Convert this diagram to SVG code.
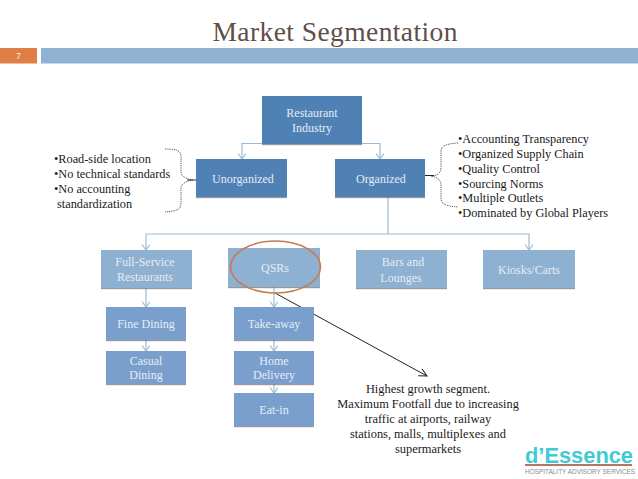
<svg xmlns="http://www.w3.org/2000/svg" width="638" height="479" viewBox="0 0 638 479">
<style>
text{font-family:"Liberation Serif","Times New Roman",serif}
.l{font-size:12px;fill:#e4edf5;text-anchor:middle}
.b{font-size:12.3px;fill:#1a1a1a}
.c{font-size:12.4px;fill:#1a1a1a;text-anchor:middle}
.a{fill:#4f81b4}.m{fill:#8eb0d1}.k{fill:#7a9fcd}
rect{filter:url(#s)}
.w{fill:none;stroke:#9dbbd6;stroke-width:1.2}
.d{fill:none;stroke:#444;stroke-width:.9;stroke-dasharray:1.2 1}
</style>
<defs>
<filter id="s" x="-5%" y="-5%" width="110%" height="115%"><feDropShadow dx="0" dy="1.2" stdDeviation=".5" flood-color="#555" flood-opacity=".6"/></filter>
<marker id="h" markerWidth="10" markerHeight="10" refX="6" refY="4" orient="auto" markerUnits="userSpaceOnUse"><path d="M0.5 0L6 4L0.5 8" fill="none" stroke="#9dbbd6" stroke-width="1.2"/></marker>
<marker id="t" markerWidth="12" markerHeight="10" refX="8" refY="4" orient="auto" markerUnits="userSpaceOnUse"><path d="M0 0L8 4L0 8" fill="none" stroke="#222" stroke-width="1"/></marker>
</defs>
<text x="335" y="41" font-size="27.5" fill="#5e4f48" text-anchor="middle" textLength="245">Market Segmentation</text>
<g id="header">
<path d="M0 48H37V63.5H0Z" fill="#e07f45"/>
<path d="M41 48H638V63.5H41Z" fill="#90b1d1"/>
<text x="18.500" y="58.500" font-size="9" font-weight="bold" fill="#f5e6da" text-anchor="middle">7</text>
</g>
<g id="connectors">
<path class="w" marker-end="url(#h)" d="M262 143.500H242V159"/>
<path class="w" marker-end="url(#h)" d="M362 143.500H380V159"/>
<path class="w" marker-end="url(#h)" d="M388 197V234H146V250"/>
<path class="w" marker-end="url(#h)" d="M388 234H529V250"/>
<path class="w" marker-end="url(#h)" d="M146 288V307"/>
<path class="w" marker-end="url(#h)" d="M146 340V351"/>
<path class="w" marker-end="url(#h)" d="M274 287V307"/>
<path class="w" marker-end="url(#h)" d="M274 340V351"/>
<path class="w" marker-end="url(#h)" d="M274 384V393"/>
<path d="M275 293L427 376" fill="none" stroke="#222" stroke-width="1" marker-end="url(#t)"/>
<path class="d" d="M165 149C178 149 181 151 181 157V172C181 176 186 179 193 180C186 181 181 184 181 188V203C181 209 178 211 165 212"/>
<path d="M187 180H197" stroke="#333" stroke-width="1" fill="none"/>
<path class="d" d="M458 143C445 144 441 146 441 152V168C441 173 437 176 431 176C437 177 441 180 441 185V198C441 204 445 206 458 207"/>
<path d="M425 175.500H434" stroke="#222" stroke-width="1" fill="none"/>
</g>
<g id="restaurant"><rect class="a" x="262" y="96" width="100" height="48"/><text class="l" x="312" y="117">Restaurant</text><text class="l" x="312" y="132">Industry</text></g>
<g id="unorganized"><rect class="a" x="196" y="159" width="91" height="38"/><text class="l" x="243" y="183">Unorganized</text></g>
<g id="organized"><rect class="a" x="335" y="159" width="90" height="38"/><text class="l" x="381" y="183">Organized</text></g>
<g id="full-service"><rect class="m" x="101" y="250" width="91" height="38"/><text class="l" x="145" y="266">Full-Service</text><text class="l" x="145" y="281">Restaurants</text></g>
<g id="qsrs"><rect class="m" x="228" y="248" width="92" height="39"/><text class="l" x="275" y="272">QSRs</text></g>
<g id="bars"><rect class="m" x="356" y="250" width="91" height="38"/><text class="l" x="403" y="266">Bars and</text><text class="l" x="401" y="282">Lounges</text></g>
<g id="kiosks"><rect class="m" x="483" y="250" width="92" height="38"/><text class="l" x="529" y="274">Kiosks/Carts</text></g>
<g id="fine-dining"><rect class="k" x="106" y="307" width="80" height="33"/><text class="l" x="146" y="328">Fine Dining</text></g>
<g id="casual-dining"><rect class="k" x="106" y="351" width="80" height="33"/><text class="l" x="146" y="365">Casual</text><text class="l" x="146" y="379">Dining</text></g>
<g id="take-away"><rect class="k" x="234" y="307" width="80" height="33"/><text class="l" x="274" y="328">Take-away</text></g>
<g id="home-delivery"><rect class="k" x="234" y="351" width="80" height="33"/><text class="l" x="274" y="365">Home</text><text class="l" x="274" y="379">Delivery</text></g>
<g id="eat-in"><rect class="k" x="234" y="393" width="80" height="33"/><text class="l" x="274" y="414">Eat-in</text></g>
<ellipse id="highlight" cx="275.500" cy="267" rx="45" ry="26" fill="none" stroke="#c9794f" stroke-width="1.6"/>
<g id="notes-left">
<text class="b" x="54" y="163">•Road-side location</text>
<text class="b" x="54" y="178">•No technical standards</text>
<text class="b" x="54" y="193">•No accounting</text>
<text class="b" x="57" y="208">standardization</text>
</g>
<g id="notes-right">
<text class="b" x="458" y="143">•Accounting Transparency</text>
<text class="b" x="458" y="158">•Organized Supply Chain</text>
<text class="b" x="458" y="173">•Quality Control</text>
<text class="b" x="458" y="188">•Sourcing Norms</text>
<text class="b" x="458" y="202">•Multiple Outlets</text>
<text class="b" x="458" y="217">•Dominated by Global Players</text>
</g>
<g id="callout">
<text class="c" x="428" y="393">Highest growth segment.</text>
<text class="c" x="428" y="408">Maximum Footfall due to increasing</text>
<text class="c" x="428" y="423">traffic at airports, railway</text>
<text class="c" x="428" y="438">stations, malls, multiplexes and</text>
<text class="c" x="428" y="453">supermarkets</text>
</g>
<g id="logo">
<text x="525" y="463" font-size="22" font-weight="bold" fill="#3ecbd4" style="font-family:'Liberation Sans',sans-serif" textLength="108" lengthAdjust="spacingAndGlyphs">d’Essence</text>
<path d="M525 465H632" stroke="#a5452f" stroke-width="1.500"/>
<text x="525" y="474" font-size="6.500" fill="#8a8a8a" style="font-family:'Liberation Sans',sans-serif" textLength="110" lengthAdjust="spacingAndGlyphs">HOSPITALITY ADVISORY SERVICES</text>
</g>
</svg>
